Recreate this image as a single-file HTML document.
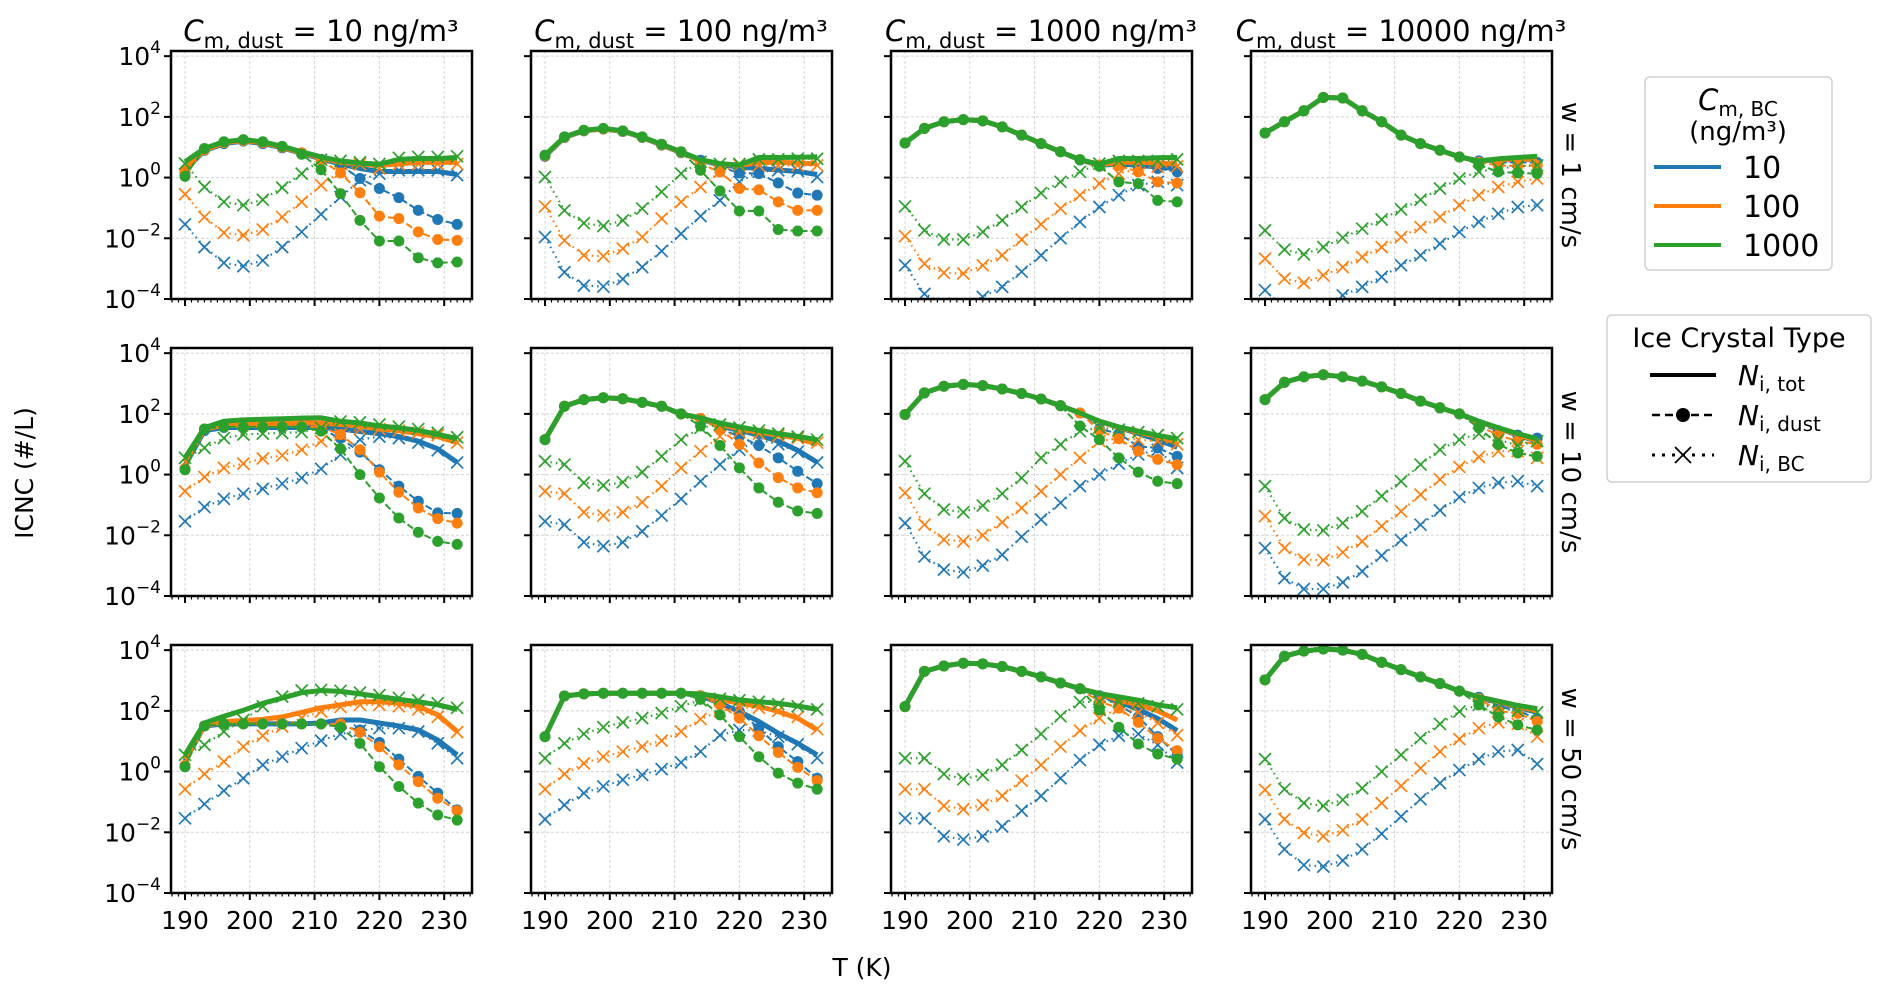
<!DOCTYPE html>
<html><head><meta charset="utf-8"><title>ICNC vs T</title>
<style>html,body{margin:0;padding:0;background:#fff;}svg{display:block;font-family:"DejaVu Sans","Liberation Sans",sans-serif;}</style>
</head><body>
<svg id="chart" width="1892" height="1003" viewBox="0 0 1892 1003" xmlns="http://www.w3.org/2000/svg">
<g id="panels"></g>
<text x="33" y="473" font-size="25" text-anchor="middle" transform="rotate(-90 33 473)">ICNC (#/L)</text>
<text x="862" y="976" font-size="25" text-anchor="middle">T (K)</text>
<g>
<rect x="1645" y="77" width="187" height="193" rx="5" fill="#fff" stroke="#d0d0d0" stroke-width="1.5"/>
<text x="1738" y="110" font-size="29" text-anchor="middle"><tspan font-style="italic">C</tspan><tspan font-size="20" dy="6">m, BC</tspan></text>
<text x="1738" y="140" font-size="26" text-anchor="middle">(ng/m³)</text>
<g><line x1="1654" y1="167" x2="1721" y2="167" stroke="#1f77b4" stroke-width="4"/><text x="1743" y="178" font-size="30">10</text></g>
<g><line x1="1654" y1="206" x2="1721" y2="206" stroke="#ff7f0e" stroke-width="4"/><text x="1743" y="217" font-size="30">100</text></g>
<g><line x1="1654" y1="245" x2="1721" y2="245" stroke="#2ca02c" stroke-width="4"/><text x="1743" y="256" font-size="30">1000</text></g>
</g>
<g>
<rect x="1607" y="315" width="264" height="167" rx="5" fill="#fff" stroke="#d0d0d0" stroke-width="1.5"/>
<text x="1739" y="347" font-size="27" text-anchor="middle">Ice Crystal Type</text>
<g><line x1="1650" y1="375" x2="1716" y2="375" stroke="#000" stroke-width="4"/><text x="1738" y="385" font-size="28"><tspan font-style="italic">N</tspan><tspan font-size="20" dy="6">i, tot</tspan></text></g>
<g><line x1="1652" y1="415" x2="1714" y2="415" stroke="#000" stroke-width="2.5" stroke-dasharray="8,5"/><circle cx="1683" cy="415" r="7" fill="#000"/><text x="1738" y="425" font-size="28"><tspan font-style="italic">N</tspan><tspan font-size="20" dy="6">i, dust</tspan></text></g>
<g><line x1="1652" y1="455" x2="1714" y2="455" stroke="#000" stroke-width="3" stroke-dasharray="3,7"/><path d="M1675 447 L1691 463 M1691 447 L1675 463" stroke="#000" stroke-width="1.8"/><text x="1738" y="465" font-size="28"><tspan font-style="italic">N</tspan><tspan font-size="20" dy="6">i, BC</tspan></text></g>
</g>
</svg>
<script>
// Temperatures (K)
const temps = [190,193,196,199,202,205,208,211,214,217,220,223,226,229,232];
const dustLabels = ["10","100","1000","10000"];
const wLabels = ["w = 1 cm/s","w = 10 cm/s","w = 50 cm/s"];
const xTicks = [190,200,210,220,230];
const yTickExps = [-4,-2,0,2,4];
// log10 ICNC values; each array has 12 panels (row-major: w=1 c1..c4, w=10, w=50)
const totBlue = [
[0.25,0.88,1.12,1.2,1.12,0.98,0.8,0.62,0.45,0.3,0.2,0.2,0.2,0.2,0.1],
[0.7,1.32,1.54,1.6,1.52,1.32,1.07,0.82,0.57,0.42,0.35,0.3,0.25,0.2,0.1],
[1.14,1.62,1.84,1.91,1.87,1.67,1.4,1.12,0.85,0.58,0.4,0.45,0.4,0.35,0.3],
[1.47,1.84,2.2,2.64,2.62,2.2,1.84,1.4,1.12,0.9,0.68,0.55,0.58,0.6,0.6],
[0.3,1.45,1.55,1.55,1.55,1.55,1.55,1.55,1.5,1.42,1.35,1.25,1.1,0.85,0.4],
[1.15,2.25,2.47,2.53,2.5,2.38,2.25,2.0,1.85,1.6,1.45,1.3,1.1,0.8,0.4],
[1.98,2.69,2.91,2.97,2.93,2.82,2.67,2.49,2.27,2.03,1.75,1.55,1.35,1.15,0.9],
[2.47,3.04,3.22,3.29,3.22,3.08,2.89,2.67,2.42,2.2,2.0,1.75,1.52,1.3,1.1],
[0.35,1.5,1.57,1.57,1.57,1.57,1.57,1.6,1.7,1.7,1.6,1.5,1.37,1.04,0.55],
[1.15,2.49,2.56,2.58,2.58,2.58,2.58,2.58,2.5,2.25,1.98,1.65,1.26,0.93,0.55],
[2.14,3.3,3.48,3.57,3.55,3.46,3.3,3.12,2.92,2.73,2.55,2.3,2.05,1.75,1.35],
[3.02,3.8,3.97,4.04,4.0,3.86,3.6,3.36,3.12,2.9,2.65,2.45,2.28,2.12,1.95]];
const totOrange = [
[0.3,0.9,1.15,1.22,1.15,1.0,0.82,0.65,0.5,0.45,0.4,0.45,0.5,0.5,0.5],
[0.72,1.33,1.55,1.6,1.53,1.33,1.08,0.83,0.58,0.45,0.4,0.5,0.5,0.48,0.45],
[1.14,1.62,1.84,1.91,1.87,1.67,1.4,1.12,0.85,0.59,0.42,0.5,0.5,0.48,0.45],
[1.47,1.84,2.2,2.64,2.62,2.2,1.84,1.4,1.12,0.9,0.68,0.55,0.6,0.6,0.6],
[0.4,1.5,1.62,1.65,1.67,1.68,1.7,1.7,1.65,1.6,1.5,1.45,1.35,1.25,1.05],
[1.15,2.25,2.47,2.53,2.5,2.38,2.25,2.0,1.85,1.65,1.5,1.4,1.3,1.2,1.0],
[1.98,2.69,2.91,2.97,2.93,2.82,2.67,2.49,2.27,2.03,1.75,1.55,1.4,1.25,1.05],
[2.47,3.04,3.22,3.29,3.22,3.08,2.89,2.67,2.42,2.2,2.0,1.75,1.52,1.32,1.12],
[0.4,1.5,1.65,1.68,1.72,1.8,1.95,2.1,2.2,2.3,2.3,2.25,2.15,1.87,1.32],
[1.15,2.49,2.56,2.58,2.58,2.58,2.58,2.58,2.55,2.37,2.25,2.15,1.98,1.76,1.37],
[2.14,3.3,3.48,3.57,3.55,3.46,3.3,3.12,2.92,2.73,2.57,2.35,2.2,2.0,1.7],
[3.02,3.8,3.97,4.04,4.0,3.86,3.6,3.36,3.12,2.9,2.65,2.46,2.3,2.15,2.0]];
const totGreen = [
[0.52,0.96,1.18,1.25,1.18,1.03,0.85,0.68,0.55,0.48,0.44,0.6,0.63,0.63,0.66],
[0.74,1.34,1.56,1.62,1.54,1.34,1.1,0.85,0.59,0.46,0.41,0.66,0.66,0.67,0.68],
[1.14,1.62,1.84,1.91,1.87,1.67,1.4,1.12,0.85,0.59,0.44,0.63,0.63,0.65,0.66],
[1.47,1.84,2.2,2.64,2.62,2.2,1.84,1.4,1.12,0.9,0.68,0.55,0.62,0.66,0.7],
[0.55,1.54,1.76,1.8,1.82,1.84,1.86,1.87,1.76,1.7,1.6,1.54,1.46,1.32,1.19],
[1.15,2.25,2.47,2.53,2.5,2.38,2.25,2.0,1.87,1.7,1.57,1.46,1.35,1.26,1.15],
[1.98,2.69,2.91,2.97,2.93,2.82,2.67,2.49,2.27,2.03,1.76,1.57,1.43,1.29,1.18],
[2.47,3.04,3.22,3.29,3.22,3.08,2.89,2.67,2.42,2.2,2.0,1.76,1.54,1.35,1.18],
[0.55,1.6,1.82,2.02,2.25,2.42,2.6,2.67,2.64,2.56,2.47,2.38,2.3,2.2,2.05],
[1.15,2.49,2.56,2.58,2.58,2.58,2.58,2.58,2.56,2.46,2.36,2.3,2.25,2.16,2.05],
[2.14,3.3,3.48,3.57,3.55,3.46,3.3,3.12,2.92,2.73,2.57,2.46,2.35,2.2,2.1],
[3.02,3.8,3.97,4.04,4.0,3.86,3.6,3.36,3.12,2.9,2.65,2.46,2.32,2.18,2.07]];
const dustBlue = [
[0.15,0.9,1.12,1.2,1.12,0.98,0.8,0.6,0.4,-0.03,-0.36,-0.66,-1.08,-1.38,-1.54],
[0.7,1.32,1.54,1.6,1.52,1.32,1.07,0.82,0.57,0.35,0.15,0.13,-0.18,-0.51,-0.58],
[1.14,1.62,1.84,1.91,1.87,1.67,1.4,1.12,0.85,0.58,0.4,0.5,0.35,0.3,0.19],
[1.47,1.84,2.2,2.64,2.62,2.2,1.84,1.4,1.12,0.9,0.68,0.55,0.5,0.5,0.5],
[0.2,1.45,1.55,1.55,1.55,1.55,1.55,1.5,1.2,0.74,0.16,-0.38,-0.88,-1.26,-1.28],
[1.15,2.25,2.47,2.53,2.5,2.38,2.25,2.0,1.85,1.5,1.26,0.96,0.55,0.11,-0.3],
[1.98,2.69,2.91,2.97,2.93,2.82,2.67,2.49,2.27,2.03,1.5,1.35,0.93,0.88,0.6],
[2.47,3.04,3.22,3.29,3.22,3.08,2.89,2.67,2.42,2.2,2.0,1.65,1.45,1.3,1.2],
[0.2,1.5,1.57,1.57,1.57,1.57,1.57,1.57,1.5,1.37,0.96,0.41,-0.16,-0.71,-1.26],
[1.15,2.49,2.56,2.58,2.58,2.58,2.58,2.58,2.5,2.3,1.98,1.43,0.82,0.33,-0.22],
[2.14,3.3,3.48,3.57,3.55,3.46,3.3,3.12,2.92,2.73,2.5,2.2,1.8,1.15,0.55],
[3.02,3.8,3.97,4.04,4.0,3.86,3.6,3.36,3.12,2.9,2.65,2.45,2.15,2.0,1.75]];
const dustOrange = [
[0.2,0.92,1.15,1.22,1.15,1.0,0.82,0.57,0.15,-0.5,-1.27,-1.35,-1.79,-2.04,-2.07],
[0.72,1.33,1.55,1.6,1.53,1.33,1.08,0.83,0.45,0.19,-0.36,-0.4,-0.8,-1.08,-1.08],
[1.14,1.62,1.84,1.91,1.87,1.67,1.4,1.12,0.85,0.59,0.42,0.4,0.19,-0.14,-0.18],
[1.47,1.84,2.2,2.64,2.62,2.2,1.84,1.4,1.12,0.9,0.68,0.5,0.4,0.38,0.4],
[0.2,1.5,1.57,1.57,1.57,1.57,1.57,1.57,1.32,0.82,0.08,-0.58,-1.1,-1.45,-1.6],
[1.15,2.25,2.47,2.53,2.5,2.38,2.25,2.0,1.85,1.48,1.0,0.38,-0.1,-0.44,-0.6],
[1.98,2.69,2.91,2.97,2.93,2.82,2.67,2.49,2.27,2.03,1.45,1.18,0.77,0.5,0.33],
[2.47,3.04,3.22,3.29,3.22,3.08,2.89,2.67,2.42,2.2,2.0,1.6,1.3,1.1,1.0],
[0.2,1.5,1.57,1.57,1.57,1.57,1.57,1.57,1.57,1.29,0.82,0.22,-0.33,-0.88,-1.29],
[1.15,2.49,2.56,2.58,2.58,2.58,2.58,2.58,2.5,2.2,1.76,1.18,0.63,0.14,-0.3],
[2.14,3.3,3.48,3.57,3.55,3.46,3.3,3.12,2.92,2.73,2.3,2.09,1.62,1.1,0.69],
[3.02,3.8,3.97,4.04,4.0,3.86,3.6,3.36,3.12,2.9,2.65,2.4,2.0,1.92,1.65]];
const dustGreen = [
[0.04,0.96,1.18,1.25,1.18,1.03,0.77,0.26,-0.53,-1.41,-2.09,-2.09,-2.64,-2.81,-2.78],
[0.74,1.34,1.56,1.62,1.54,1.34,1.1,0.85,0.24,-0.44,-1.1,-1.1,-1.71,-1.76,-1.76],
[1.14,1.62,1.84,1.91,1.87,1.67,1.4,1.12,0.85,0.59,0.37,-0.14,-0.2,-0.75,-0.8],
[1.47,1.84,2.2,2.64,2.62,2.2,1.84,1.4,1.12,0.9,0.68,0.42,0.19,0.15,0.13],
[0.16,1.5,1.57,1.57,1.57,1.57,1.57,1.43,0.85,0,-0.77,-1.43,-1.9,-2.2,-2.3],
[1.15,2.25,2.47,2.53,2.5,2.38,2.25,2.0,1.6,0.96,0.22,-0.44,-0.91,-1.2,-1.28],
[1.98,2.69,2.91,2.97,2.93,2.82,2.67,2.49,2.27,1.6,1.15,0.55,0.08,-0.22,-0.3],
[2.47,3.04,3.22,3.29,3.22,3.08,2.89,2.67,2.42,2.2,2.0,1.54,0.99,0.71,0.6],
[0.16,1.5,1.57,1.57,1.57,1.57,1.57,1.57,1.46,0.93,0.16,-0.49,-1.04,-1.43,-1.6],
[1.15,2.49,2.56,2.58,2.58,2.58,2.58,2.58,2.38,1.87,1.15,0.49,-0.05,-0.38,-0.58],
[2.14,3.3,3.48,3.57,3.55,3.46,3.3,3.12,2.92,2.73,2.03,1.46,0.91,0.58,0.41],
[3.02,3.8,3.97,4.04,4.0,3.86,3.6,3.36,3.12,2.9,2.65,2.2,1.8,1.54,1.37]];
const bcBlue = [
[-1.54,-2.29,-2.81,-2.92,-2.73,-2.29,-1.79,-1.21,-0.64,-0.09,0.13,0.24,0.24,0.24,0.08],
[-1.96,-3.12,-3.56,-3.59,-3.34,-2.95,-2.42,-1.85,-1.27,-0.75,-0.14,0.19,0.24,0.22,0.02],
[-2.89,-3.83,-4.15,-4.2,-3.93,-3.6,-3.1,-2.56,-2.0,-1.46,-0.97,-0.58,-0.25,-0.14,-0.25],
[-3.71,-4.3,-4.5,-4.2,-3.88,-3.6,-3.27,-2.89,-2.56,-2.18,-1.79,-1.46,-1.19,-0.97,-0.91],
[-1.54,-1.07,-0.8,-0.63,-0.47,-0.3,-0.11,0.19,0.66,1.15,1.25,1.2,1.05,0.8,0.4],
[-1.54,-1.65,-2.23,-2.36,-2.23,-1.87,-1.35,-0.8,-0.22,0.33,0.82,1.15,1.0,0.75,0.4],
[-1.6,-2.7,-3.13,-3.22,-3.0,-2.64,-2.05,-1.48,-0.93,-0.38,0,0.36,0.66,0.82,0.22],
[-2.42,-3.41,-3.77,-3.77,-3.55,-3.19,-2.67,-2.16,-1.65,-1.18,-0.74,-0.44,-0.27,-0.22,-0.38],
[-1.54,-1.07,-0.63,-0.22,0.22,0.49,0.77,1.02,1.24,1.35,1.43,1.43,1.32,0.93,0.44],
[-1.57,-1.1,-0.71,-0.49,-0.27,-0.11,0.08,0.3,0.66,1.2,1.37,1.35,1.15,0.9,0.45],
[-1.54,-1.54,-2.13,-2.24,-2.13,-1.81,-1.29,-0.8,-0.22,0.38,0.88,1.18,1.24,0.88,0.3],
[-1.57,-2.56,-3.08,-3.13,-2.93,-2.56,-2.05,-1.48,-0.91,-0.38,0.05,0.41,0.66,0.71,0.25]];
const bcOrange = [
[-0.55,-1.3,-1.82,-1.9,-1.71,-1.3,-0.8,-0.25,0.19,0.44,0.3,0.44,0.45,0.45,0.45],
[-0.95,-2.07,-2.56,-2.59,-2.34,-1.96,-1.35,-0.8,-0.31,0.19,0.41,0.4,0.4,0.4,0.4],
[-1.93,-2.84,-3.14,-3.16,-2.89,-2.56,-2.04,-1.54,-1.02,-0.58,-0.2,0.13,0.3,0.35,0.37],
[-2.67,-3.33,-3.47,-3.22,-2.95,-2.62,-2.29,-1.96,-1.63,-1.3,-0.91,-0.58,-0.31,-0.14,-0.03],
[-0.55,-0.08,0.22,0.36,0.53,0.63,0.82,1.1,1.32,1.5,1.5,1.45,1.38,1.3,1.05],
[-0.55,-0.63,-1.24,-1.35,-1.24,-0.91,-0.38,0.22,0.77,1.26,1.4,1.35,1.28,1.2,1.05],
[-0.6,-1.65,-2.14,-2.2,-2.0,-1.57,-1.1,-0.55,0,0.55,1.1,1.2,1.15,1.1,1.0],
[-1.37,-2.42,-2.8,-2.82,-2.56,-2.2,-1.7,-1.21,-0.66,-0.16,0.25,0.58,0.77,0.77,0.55],
[-0.58,-0.08,0.33,0.82,1.18,1.48,1.76,1.98,2.13,2.2,2.2,2.15,2.05,1.8,1.3],
[-0.58,-0.08,0.27,0.49,0.66,0.82,1.02,1.32,1.73,2.0,2.1,2.1,2.0,1.8,1.4],
[-0.58,-0.58,-1.13,-1.24,-1.1,-0.8,-0.3,0.22,0.82,1.35,1.76,2.09,1.95,1.6,1.2],
[-0.6,-1.57,-2.02,-2.13,-1.93,-1.57,-1.04,-0.47,0.11,0.66,1.07,1.43,1.62,1.57,1.15]];
const bcGreen = [
[0.46,-0.31,-0.8,-0.91,-0.73,-0.33,0.13,0.59,0.55,0.5,0.45,0.65,0.68,0.68,0.7],
[0.02,-1.08,-1.5,-1.6,-1.41,-1.02,-0.47,0.13,0.52,0.45,0.45,0.6,0.6,0.62,0.62],
[-0.95,-1.74,-2.04,-2.04,-1.79,-1.41,-0.97,-0.51,-0.14,0.19,0.46,0.55,0.55,0.55,0.6],
[-1.74,-2.37,-2.53,-2.29,-1.98,-1.68,-1.38,-1.05,-0.73,-0.36,-0.03,0.19,0.3,0.37,0.4],
[0.55,0.88,1.2,1.32,1.35,1.37,1.4,1.54,1.75,1.72,1.65,1.58,1.5,1.38,1.23],
[0.44,0.33,-0.27,-0.36,-0.25,0.08,0.6,1.15,1.54,1.65,1.55,1.45,1.35,1.25,1.15],
[0.44,-0.63,-1.15,-1.24,-1.02,-0.63,-0.11,0.55,0.99,1.43,1.55,1.48,1.4,1.3,1.2],
[-0.38,-1.43,-1.81,-1.84,-1.6,-1.21,-0.71,-0.22,0.33,0.82,1.15,1.35,1.15,0.96,1.1],
[0.55,0.88,1.32,1.7,2.15,2.47,2.67,2.69,2.66,2.6,2.52,2.43,2.35,2.25,2.1],
[0.44,0.93,1.24,1.46,1.62,1.76,1.93,2.15,2.35,2.4,2.35,2.3,2.22,2.15,2.05],
[0.44,0.44,-0.08,-0.25,-0.11,0.22,0.71,1.24,1.82,2.29,2.3,2.3,2.25,2.15,2.05],
[0.41,-0.58,-1.04,-1.13,-0.93,-0.55,0,0.55,1.1,1.57,1.98,2.2,2.1,2.0,1.95]];

const NS = "http://www.w3.org/2000/svg";
const root = document.getElementById("panels");
const PW = 301, PH = 248, YTOP = 4.17, YBOT = -4;
function mk(tag, attrs, parent) {
  const e = document.createElementNS(NS, tag);
  for (const k in attrs) e.setAttribute(k, attrs[k]);
  parent.appendChild(e);
  return e;
}
const colors = {blue:"#1f77b4", orange:"#ff7f0e", green:"#2ca02c"};
const seriesSets = [
  ["blue", totBlue, dustBlue, bcBlue],
  ["orange", totOrange, dustOrange, bcOrange],
  ["green", totGreen, dustGreen, bcGreen]];

for (let r = 0; r < 3; r++) {
  for (let c = 0; c < 4; c++) {
    const p = r * 4 + c;
    const L = 171 + c * 360, T0 = 51 + r * 297;
    const xs = t => L + 14 + (t - 190) * 6.48;
    const ys = v => T0 + (YTOP - v) * (PH / (YTOP - YBOT));
    const g = mk("g", {}, root);
    
    
    const cid = "clip" + p;
    const cp = mk("clipPath", {id: cid}, g);
    mk("rect", {x: L, y: T0, width: PW, height: PH}, cp);
    for (const t of xTicks) mk("line", {x1: xs(t), x2: xs(t), y1: T0, y2: T0 + PH, stroke: "#d4d4d4", "stroke-width": 1, "stroke-dasharray": "3,2"}, g);
    for (const e of yTickExps) mk("line", {x1: L, x2: L + PW, y1: ys(e), y2: ys(e), stroke: "#d4d4d4", "stroke-width": 1, "stroke-dasharray": "3,2"}, g);
    const sg = mk("g", {"clip-path": "url(#" + cid + ")"}, g);
    for (const [cn, tot, dust, bc] of seriesSets) {
      const col = colors[cn];
      const pts = arr => arr[p].map((v, i) => xs(temps[i]).toFixed(1) + "," + ys(v).toFixed(1)).join(" ");
      const lt = mk("polyline", {points: pts(tot), fill: "none", stroke: col, "stroke-width": 5, "stroke-linejoin": "round"}, sg);
      
      
      const ld = mk("polyline", {points: pts(dust), fill: "none", stroke: col, "stroke-width": 2, "stroke-dasharray": "7,3"}, sg);
      
      
      dust[p].forEach((v, i) => {
        const m = mk("circle", {cx: xs(temps[i]), cy: ys(v), r: 5.5, fill: col}, sg);
        
        
      });
      const lb = mk("polyline", {points: pts(bc), fill: "none", stroke: col, "stroke-width": 2.2, "stroke-dasharray": "1.5,4"}, sg);
      
      
      bc[p].forEach((v, i) => {
        const x = xs(temps[i]), y = ys(v), s = 6;
        const m = mk("path", {d: `M${x-s} ${y-s}L${x+s} ${y+s}M${x+s} ${y-s}L${x-s} ${y+s}`, stroke: col, "stroke-width": 1.7, fill: "none"}, sg);
        
        
      });
    }
    mk("rect", {x: L, y: T0, width: PW, height: PH, fill: "none", stroke: "#000", "stroke-width": 2.5}, g);
    for (let t = 188; t <= 234; t++) {
      const x = xs(t);
      if (x < L || x > L + PW) continue;
      const major = xTicks.includes(t);
      mk("line", {x1: x, x2: x, y1: T0 + PH, y2: T0 + PH + (major ? 7 : 3.5), stroke: "#000", "stroke-width": major ? 2 : 1.2}, g);
    }
    if (r === 2) {
      for (const t of xTicks) {
        const tl = mk("text", {x: xs(t), y: T0 + PH + 36, "font-size": 25, "text-anchor": "middle"}, g);
        tl.textContent = String(t);
        
        
      }
    }
    for (const e of yTickExps) {
      mk("line", {x1: L - 7, x2: L, y1: ys(e), y2: ys(e), stroke: "#000", "stroke-width": 2}, g);
      if (c === 0) {
        const tl = mk("text", {x: L - 10, y: ys(e) + 9, "font-size": 25, "text-anchor": "end"}, g);
        
        
        const a = mk("tspan", {}, tl); a.textContent = "10";
        const b = mk("tspan", {"font-size": 17, dy: -12}, tl); b.textContent = e < 0 ? "\u2212" + (-e) : String(e);
      }
    }
    if (r === 0) {
      const tt = mk("text", {x: L + 150, y: 41, "font-size": 29, "text-anchor": "middle"}, g);
      
      
      const a = mk("tspan", {"font-style": "italic"}, tt); a.textContent = "C";
      const b = mk("tspan", {"font-size": 21, dy: 7}, tt); b.textContent = "m, dust";
      const d = mk("tspan", {dy: -7}, tt); d.textContent = " = " + dustLabels[c] + " ng/m\u00b3";
    }
    if (c === 3) {
      const cx = 1562, cy = T0 + PH / 2;
      const rl = mk("text", {x: cx, y: cy, "font-size": 26, "text-anchor": "middle", transform: `rotate(90 ${cx} ${cy})`}, g);
      rl.textContent = wLabels[r];
      
      
    }
  }
}
</script>
</body></html>
